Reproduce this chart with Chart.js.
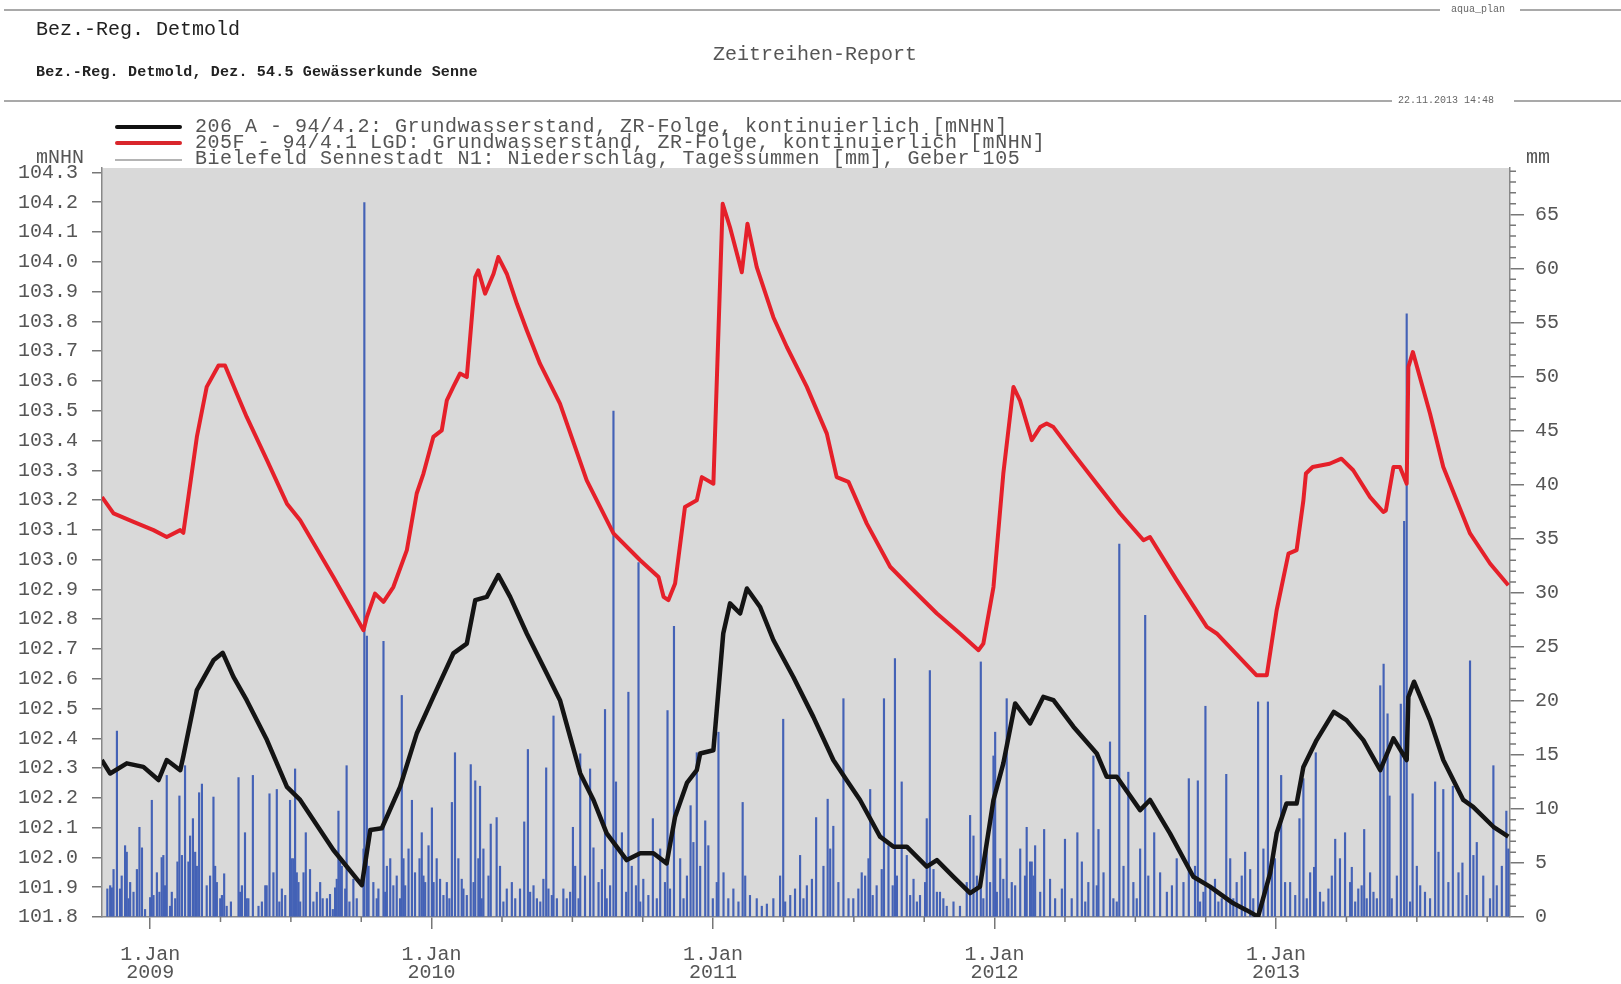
<!DOCTYPE html>
<html><head><meta charset="utf-8">
<script src="https://cdn.jsdelivr.net/npm/chart.js@4.4.1/dist/chart.umd.min.js"></script>
<style>
html,body{margin:0;padding:0;background:#fff;}
#wrap{position:relative;width:1621px;height:984px;overflow:hidden;font-family:"Liberation Mono","Courier New",monospace;}
canvas{position:absolute;left:0;top:0;}
.t{position:absolute;white-space:pre;line-height:1;}
.rule{position:absolute;height:2px;background:#a9a9a9;}
.sw{position:absolute;}
</style></head><body>
<div id="wrap">
<canvas id="c" width="1621" height="984"></canvas>
<div class="rule" style="left:4px;top:9px;width:1436px;"></div>
<div class="rule" style="left:1520px;top:9px;width:101px;"></div>
<div class="t" style="left:1451px;top:5px;font-size:10px;color:#666;">aqua_plan</div>
<div class="t" style="left:36px;top:20px;font-size:20px;color:#222;">Bez.-Reg. Detmold</div>
<div class="t" style="left:713px;top:45px;font-size:20px;color:#555;">Zeitreihen-Report</div>
<div class="t" style="left:36px;top:65px;font-size:15px;font-weight:bold;letter-spacing:0.2px;color:#222;">Bez.-Reg. Detmold, Dez. 54.5 Gewässerkunde Senne</div>
<div class="rule" style="left:4px;top:100px;width:1388px;"></div>
<div class="rule" style="left:1514px;top:100px;width:107px;"></div>
<div class="t" style="left:1398px;top:96px;font-size:10px;color:#666;">22.11.2013 14:48</div>
<div class="sw" style="left:115px;top:125px;width:67px;height:4px;background:#111;border-radius:2px;"></div>
<div class="sw" style="left:115px;top:141px;width:67px;height:4px;background:#d9262c;border-radius:2px;"></div>
<div class="sw" style="left:115px;top:159px;width:67px;height:2px;background:#b4b4b4;"></div>
<div class="t" style="left:195px;top:117px;font-size:20px;letter-spacing:0.5px;color:#555;">206 A - 94/4.2: Grundwasserstand, ZR-Folge, kontinuierlich [mNHN]</div>
<div class="t" style="left:195px;top:133px;font-size:20px;letter-spacing:0.5px;color:#555;">205F - 94/4.1 LGD: Grundwasserstand, ZR-Folge, kontinuierlich [mNHN]</div>
<div class="t" style="left:195px;top:149px;font-size:20px;letter-spacing:0.5px;color:#555;">Bielefeld Sennestadt N1: Niederschlag, Tagessummen [mm], Geber 105</div>
<div class="t" style="left:36px;top:148px;font-size:20px;color:#555;">mNHN</div>
<div class="t" style="left:1526px;top:148px;font-size:20px;color:#555;">mm</div>
</div>
<script>
// ---- axis ranges / ticks ----
const xMin = 2008.829, xMax = 2013.831;
const yearTicks = [2009, 2010, 2011, 2012, 2013];
const leftTicks = [101.8,101.9,102.0,102.1,102.2,102.3,102.4,102.5,102.6,102.7,102.8,102.9,103.0,103.1,103.2,103.3,103.4,103.5,103.6,103.7,103.8,103.9,104.0,104.1,104.2,104.3];
const leftMin = 101.8, leftMax = 104.315;
const rightTicks = [0,5,10,15,20,25,30,35,40,45,50,55,60,65];
const rightMin = 0, rightMax = 69.3;

// ---- 206 A - 94/4.2 (black), decimal year / mNHN ----
const blackDate = [2008.828,2008.858,2008.917,2008.976,2009.030,2009.059,2009.107,2009.118,2009.166,2009.225,2009.258,2009.296,2009.343,2009.415,2009.486,2009.533,2009.651,2009.752,2009.782,2009.823,2009.888,2009.947,2010.006,2010.077,2010.125,2010.155,2010.196,2010.237,2010.279,2010.338,2010.409,2010.456,2010.528,2010.575,2010.622,2010.693,2010.741,2010.788,2010.835,2010.865,2010.907,2010.942,2010.954,2011.001,2011.036,2011.060,2011.096,2011.120,2011.167,2011.214,2011.285,2011.356,2011.427,2011.474,2011.522,2011.593,2011.641,2011.688,2011.759,2011.795,2011.854,2011.913,2011.948,2011.996,2012.031,2012.073,2012.126,2012.173,2012.209,2012.280,2012.363,2012.398,2012.434,2012.517,2012.552,2012.623,2012.706,2012.765,2012.848,2012.895,2012.936,2012.979,2013.002,2013.037,2013.073,2013.097,2013.144,2013.205,2013.250,2013.310,2013.370,2013.417,2013.464,2013.470,2013.490,2013.547,2013.594,2013.665,2013.700,2013.772,2013.825];
const blackLevel = [102.327,102.282,102.316,102.304,102.26,102.327,102.293,102.34,102.562,102.662,102.687,102.606,102.528,102.394,102.237,102.193,102.025,101.907,102.092,102.098,102.237,102.416,102.539,102.685,102.718,102.864,102.875,102.948,102.875,102.752,102.618,102.528,102.282,102.193,102.081,101.991,102.014,102.014,101.98,102.137,102.25,102.293,102.349,102.36,102.752,102.853,102.819,102.903,102.841,102.73,102.606,102.472,102.327,102.26,102.193,102.07,102.036,102.036,101.969,101.991,101.935,101.88,101.902,102.193,102.316,102.517,102.45,102.539,102.528,102.439,102.349,102.271,102.271,102.159,102.193,102.081,101.935,101.902,101.846,101.823,101.801,101.947,102.081,102.181,102.181,102.304,102.394,102.489,102.461,102.394,102.293,102.4,102.327,102.539,102.59,102.461,102.327,102.193,102.17,102.103,102.07];

// ---- 205F - 94/4.1 LGD (red), decimal year / mNHN ----
const redDate = [2008.829,2008.870,2008.941,2009.012,2009.059,2009.107,2009.118,2009.166,2009.201,2009.243,2009.266,2009.308,2009.343,2009.415,2009.486,2009.533,2009.651,2009.758,2009.770,2009.799,2009.829,2009.864,2009.912,2009.947,2009.971,2010.006,2010.036,2010.054,2010.077,2010.101,2010.125,2010.155,2010.166,2010.190,2010.220,2010.237,2010.267,2010.303,2010.338,2010.385,2010.456,2010.551,2010.646,2010.741,2010.806,2010.824,2010.841,2010.865,2010.900,2010.942,2010.960,2011.001,2011.034,2011.060,2011.102,2011.122,2011.155,2011.214,2011.262,2011.333,2011.404,2011.439,2011.481,2011.546,2011.629,2011.700,2011.795,2011.877,2011.943,2011.960,2011.996,2012.031,2012.067,2012.090,2012.132,2012.162,2012.185,2012.209,2012.280,2012.363,2012.446,2012.529,2012.552,2012.647,2012.754,2012.789,2012.930,2012.967,2013.002,2013.044,2013.073,2013.097,2013.106,2013.130,2013.190,2013.232,2013.274,2013.334,2013.381,2013.390,2013.417,2013.440,2013.464,2013.470,2013.486,2013.547,2013.594,2013.689,2013.760,2013.825];
const redLevel = [103.21,103.155,103.127,103.099,103.076,103.099,103.09,103.412,103.58,103.652,103.652,103.557,103.479,103.334,103.188,103.132,102.942,102.763,102.808,102.886,102.858,102.908,103.032,103.222,103.289,103.412,103.434,103.535,103.58,103.625,103.613,103.949,103.971,103.893,103.96,104.016,103.96,103.859,103.77,103.658,103.524,103.266,103.088,102.998,102.942,102.875,102.864,102.92,103.177,103.199,103.277,103.255,104.195,104.116,103.965,104.128,103.982,103.814,103.714,103.58,103.423,103.277,103.261,103.121,102.976,102.908,102.819,102.752,102.696,102.718,102.908,103.289,103.58,103.535,103.401,103.445,103.457,103.445,103.356,103.255,103.155,103.065,103.076,102.931,102.774,102.752,102.612,102.612,102.83,103.02,103.032,103.199,103.289,103.311,103.322,103.339,103.300,103.21,103.16,103.165,103.311,103.311,103.255,103.647,103.697,103.49,103.311,103.088,102.987,102.914];

// ---- Bielefeld Sennestadt N1 daily precipitation, decimal year / mm ----
const rainDate = [2008.858,2008.870,2008.882,2008.893,2008.911,2008.929,2008.941,2008.962,2008.971,2009.000,2009.006,2009.024,2009.041,2009.059,2009.077,2009.104,2009.113,2009.124,2009.136,2009.152,2009.160,2009.174,2009.184,2009.201,2009.213,2009.225,2009.231,2009.249,2009.263,2009.272,2009.314,2009.326,2009.337,2009.349,2009.365,2009.385,2009.409,2009.424,2009.438,2009.450,2009.468,2009.497,2009.503,2009.515,2009.527,2009.545,2009.553,2009.568,2009.592,2009.613,2009.639,2009.657,2009.669,2009.681,2009.698,2009.722,2009.761,2009.770,2009.793,2009.811,2009.829,2009.841,2009.864,2009.894,2009.900,2009.918,2009.930,2009.941,2009.965,2009.977,2009.989,2010.001,2010.030,2010.054,2010.072,2010.083,2010.095,2010.113,2010.139,2010.155,2010.172,2010.184,2010.202,2010.210,2010.231,2010.243,2010.285,2010.314,2010.329,2010.342,2010.362,2010.374,2010.397,2010.407,2010.415,2010.433,2010.468,2010.480,2010.502,2010.510,2010.528,2010.545,2010.563,2010.575,2010.593,2010.616,2010.634,2010.646,2010.655,2010.676,2010.699,2010.711,2010.735,2010.752,2010.770,2010.786,2010.812,2010.829,2010.838,2010.861,2010.883,2010.907,2010.920,2010.930,2010.942,2010.954,2010.972,2010.983,2011.019,2011.037,2011.072,2011.105,2011.114,2011.155,2011.191,2011.238,2011.249,2011.274,2011.309,2011.333,2011.366,2011.392,2011.407,2011.416,2011.427,2011.445,2011.463,2011.498,2011.528,2011.552,2011.558,2011.581,2011.607,2011.623,2011.646,2011.653,2011.670,2011.688,2011.712,2011.735,2011.759,2011.770,2011.783,2011.806,2011.830,2011.901,2011.913,2011.925,2011.951,2011.972,2011.996,2012.002,2012.020,2012.043,2012.061,2012.091,2012.114,2012.126,2012.132,2012.138,2012.144,2012.162,2012.176,2012.197,2012.239,2012.250,2012.274,2012.294,2012.310,2012.333,2012.351,2012.369,2012.387,2012.410,2012.422,2012.443,2012.458,2012.475,2012.493,2012.517,2012.535,2012.567,2012.588,2012.612,2012.647,2012.671,2012.690,2012.712,2012.722,2012.742,2012.749,2012.783,2012.807,2012.823,2012.837,2012.860,2012.890,2012.908,2012.936,2012.955,2012.971,2012.996,2013.018,2013.050,2013.083,2013.097,2013.121,2013.135,2013.141,2013.156,2013.198,2013.210,2013.227,2013.245,2013.263,2013.269,2013.292,2013.313,2013.334,2013.358,2013.370,2013.382,2013.396,2013.403,2013.429,2013.443,2013.455,2013.464,2013.485,2013.500,2013.529,2013.565,2013.577,2013.594,2013.612,2013.628,2013.648,2013.662,2013.677,2013.689,2013.701,2013.713,2013.736,2013.772,2013.784,2013.802,2013.818,2013.825];
const rainMm = [2.9,4.4,17.2,2.6,6.6,3.2,2.3,8.3,6.4,1.8,10.8,4.1,5.5,13.1,2.3,11.2,5.7,14.0,5.1,9.1,6.0,11.5,12.3,2.9,3.8,11.1,4.7,1.7,4.0,1.0,12.9,2.9,7.8,1.7,13.1,1.0,2.9,11.4,4.1,11.8,2.6,10.8,5.4,13.7,3.2,4.1,7.8,4.4,2.3,1.7,2.1,2.7,9.8,4.7,14.0,3.5,66.1,26.0,3.2,2.6,25.5,4.7,2.9,20.5,5.4,6.3,10.8,4.1,7.8,3.2,6.6,10.1,3.5,3.2,10.6,15.2,5.4,2.6,14.1,12.6,12.1,6.3,3.8,8.6,9.2,4.7,3.2,2.6,8.8,15.5,2.9,1.7,3.5,13.8,2.6,18.6,2.6,1.7,8.3,4.7,15.1,3.8,13.7,6.4,3.2,19.2,2.9,46.8,12.5,7.8,20.8,4.7,32.8,3.5,2.0,9.1,6.3,3.2,19.1,26.9,5.4,3.8,10.3,6.9,15.2,4.7,8.9,6.6,17.1,4.1,2.6,10.6,3.8,1.7,1.2,3.8,18.3,2.0,5.7,2.9,9.2,4.7,10.9,6.3,8.4,3.2,20.2,1.7,4.1,5.4,11.8,2.9,20.2,6.6,23.9,3.8,12.5,5.7,3.5,2.0,9.1,22.8,4.4,2.3,1.0,3.2,9.4,7.5,23.6,7.2,14.9,17.1,5.4,20.2,3.2,6.3,8.3,5.1,5.1,3.8,6.6,2.3,8.1,3.5,2.6,7.2,1.7,7.8,5.1,3.2,14.9,8.1,4.1,16.2,1.7,34.5,4.7,13.4,3.2,6.3,27.9,7.8,4.1,2.3,5.4,3.2,12.8,4.7,12.6,2.3,19.5,3.5,1.7,13.2,5.4,3.2,6.0,4.4,19.9,6.3,19.9,5.4,13.1,3.2,9.1,12.8,4.1,4.6,15.2,2.3,3.8,7.2,5.4,7.8,3.2,4.6,2.6,8.1,4.1,1.7,21.4,23.4,18.8,11.2,3.8,19.7,36.6,55.8,11.4,4.7,2.3,12.5,6.0,11.8,3.2,12.1,4.1,5.0,2.0,23.7,5.7,6.9,3.8,14.0,2.9,4.7,9.8,6.3];
// smaller daily totals in the dense low band
const rainLowDate = [2008.848,2008.864,2008.899,2008.917,2008.923,2008.953,2008.982,2009.012,2009.033,2009.047,2009.053,2009.071,2009.089,2009.097,2009.142,2009.166,2009.237,2009.255,2009.287,2009.320,2009.343,2009.397,2009.414,2009.459,2009.480,2009.509,2009.521,2009.533,2009.580,2009.604,2009.628,2009.649,2009.663,2009.675,2009.693,2009.708,2009.734,2009.758,2009.776,2009.805,2009.835,2009.853,2009.876,2009.888,2009.906,2009.957,2009.971,2010.007,2010.018,2010.042,2010.063,2010.107,2010.125,2010.149,2010.166,2010.178,2010.255,2010.267,2010.297,2010.350,2010.386,2010.427,2010.445,2010.492,2010.522,2010.605,2010.622,2010.691,2010.726,2010.741,2010.800,2010.847,2010.895,2010.999,2011.013,2011.054,2011.090,2011.131,2011.173,2011.214,2011.256,2011.291,2011.321,2011.351,2011.481,2011.516,2011.540,2011.567,2011.599,2011.638,2011.700,2011.724,2011.753,2011.795,2011.818,2011.854,2011.877,2011.937,2011.960,2011.984,2012.008,2012.031,2012.049,2012.073,2012.108,2012.215,2012.322,2012.363,2012.434,2012.505,2012.546,2012.630,2012.730,2012.766,2012.795,2012.848,2012.878,2012.919,2012.985,2013.032,2013.068,2013.109,2013.168,2013.186,2013.281,2013.304,2013.322,2013.346,2013.411,2013.476,2013.512,2013.547,2013.760];
const rainLowMm = [2.6,2.7,3.8,6.0,1.7,4.4,0.7,2.0,2.3,5.7,2.9,1.0,1.7,5.1,7.5,4.7,3.2,2.0,1.4,2.3,1.7,1.4,2.9,1.4,2.0,5.4,4.1,1.4,1.4,3.2,1.7,0.7,3.5,5.1,2.6,1.4,1.7,6.3,4.7,1.7,2.3,5.4,3.8,1.7,2.9,5.4,3.8,3.2,5.4,2.0,1.7,3.5,2.0,3.2,5.4,1.7,1.4,2.6,1.7,2.3,1.4,2.0,1.7,2.3,1.7,4.4,1.7,2.3,2.9,1.4,1.7,2.6,1.7,1.7,3.2,1.7,1.4,2.0,1.0,1.7,1.4,2.6,1.7,3.5,1.7,2.6,3.8,2.0,4.4,2.9,2.0,1.4,3.2,2.3,1.7,1.4,1.0,3.8,1.7,3.2,2.3,3.5,1.7,2.9,3.8,1.7,1.4,2.9,1.4,1.7,3.8,2.9,1.4,2.9,1.4,1.7,3.8,1.7,4.7,3.2,2.0,1.7,1.4,2.6,1.4,2.9,1.7,2.3,1.7,1.4,2.9,1.7,1.7];

const FONT = "'Liberation Mono','Courier New',monospace";
const TXT = '#555';

const plotBg = {
  id: 'plotBg',
  beforeDraw(chart) {
    const { ctx, chartArea: a } = chart;
    ctx.save();
    ctx.fillStyle = '#d9d9d9';
    ctx.fillRect(a.left, a.top, a.right - a.left, a.bottom - a.top);
    ctx.restore();
  }
};
const minorTicks = {
  id: 'minorTicks',
  afterDraw(chart) {
    const { ctx, chartArea: a, scales } = chart;
    ctx.save();
    ctx.strokeStyle = '#777';
    ctx.lineWidth = 1.5;
    ctx.beginPath();
    for (let y = 2008; y <= 2013; y++) {
      [0.25, 0.5, 0.75].forEach(q => {
        const v = y + q;
        if (v > xMin && v < xMax) {
          const px = scales.x.getPixelForValue(v);
          ctx.moveTo(px, a.bottom); ctx.lineTo(px, a.bottom + 5);
        }
      });
    }
    for (let v = 1; v < rightMax; v++) {
      if (v % 5 === 0) continue;
      const py = scales.y2.getPixelForValue(v);
      ctx.moveTo(a.right, py); ctx.lineTo(a.right + 6, py);
    }
    ctx.stroke();
    ctx.restore();
  }
};

const rainPoints = rainDate.map((x, i) => ({ x, y: rainMm[i] }))
  .concat(rainLowDate.map((x, i) => ({ x, y: rainLowMm[i] })));

new Chart(document.getElementById('c'), {
  type: 'bar',
  data: {
    datasets: [
      {
        type: 'line', label: '206 A - 94/4.2', yAxisID: 'y', order: 1,
        data: blackDate.map((x, i) => ({ x, y: blackLevel[i] })),
        borderColor: '#141414', borderWidth: 4.5, pointRadius: 0, tension: 0, borderJoinStyle: 'round'
      },
      {
        type: 'line', label: '205F - 94/4.1 LGD', yAxisID: 'y', order: 2,
        data: redDate.map((x, i) => ({ x, y: redLevel[i] })),
        borderColor: '#e5202a', borderWidth: 4, pointRadius: 0, tension: 0, borderJoinStyle: 'round'
      },
      {
        type: 'bar', label: 'Bielefeld Sennestadt N1', yAxisID: 'y2', order: 3,
        data: rainPoints,
        backgroundColor: '#4462b6', borderWidth: 0, barThickness: 1.5, grouped: false
      }
    ]
  },
  options: {
    responsive: false, animation: false, devicePixelRatio: 1,
    layout: { padding: { top: 168, left: 0, right: 0, bottom: 0 } },
    plugins: { legend: { display: false }, tooltip: { enabled: false }, title: { display: false } },
    scales: {
      x: {
        type: 'linear', min: xMin, max: xMax, offset: false,
        afterBuildTicks: s => { s.ticks = yearTicks.map(v => ({ value: v })); },
        afterFit: s => { s.height = 67; },
        ticks: { callback: v => ['1.Jan', String(v)], font: { family: FONT, size: 20, lineHeight: 0.9 }, color: TXT, padding: 17, maxRotation: 0, autoSkip: false },
        grid: { drawOnChartArea: false, drawTicks: true, tickLength: 12, color: '#777', lineWidth: 1.5, offset: false },
        border: { display: true, color: '#888', width: 1.5 }
      },
      y: {
        type: 'linear', position: 'left', min: leftMin, max: leftMax,
        afterBuildTicks: s => { s.ticks = leftTicks.map(v => ({ value: v })); },
        afterFit: s => { s.width = 102; },
        ticks: { callback: v => Number(v).toFixed(1), font: { family: FONT, size: 20 }, color: TXT, padding: 14 },
        grid: { drawOnChartArea: false, tickLength: 10, color: '#777', lineWidth: 1.5 },
        border: { display: true, color: '#888', width: 1.5 }
      },
      y2: {
        type: 'linear', position: 'right', min: rightMin, max: rightMax,
        afterBuildTicks: s => { s.ticks = rightTicks.map(v => ({ value: v })); },
        afterFit: s => { s.width = 111; },
        ticks: { callback: v => String(v), font: { family: FONT, size: 20 }, color: TXT, padding: 11 },
        grid: { drawOnChartArea: false, tickLength: 14, color: '#777', lineWidth: 1.5 },
        border: { display: true, color: '#888', width: 1.5 }
      }
    }
  },
  plugins: [plotBg, minorTicks]
});
</script>
</body></html>
